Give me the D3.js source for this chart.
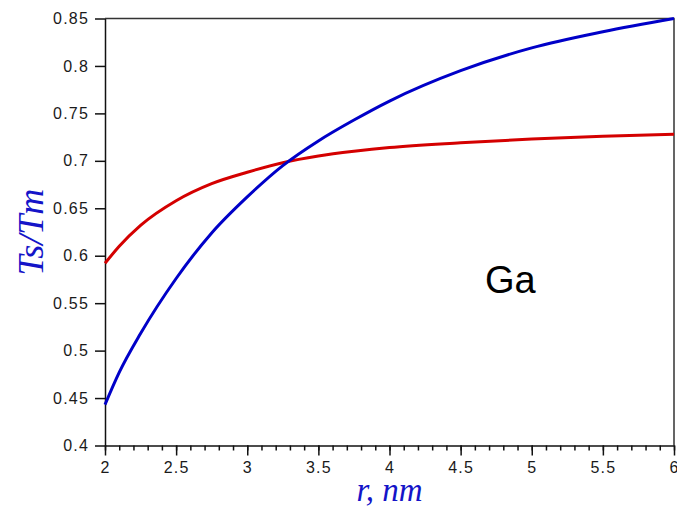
<!DOCTYPE html>
<html>
<head>
<meta charset="utf-8">
<script src="https://cdn.jsdelivr.net/npm/d3@7"></script>
<style>
  html, body { margin: 0; padding: 0; background: #fff; }
  .tick text { font-family: "Liberation Sans", Arial, sans-serif; font-size: 16px; letter-spacing: 1.2px; fill: #1a1a1a; }
  .tick line, .domain { stroke: #111; stroke-width: 1.5px; }
</style>
</head>
<body>
<div id="chart"></div>
<script>
// radius values (nm)
const rBlue = [2, 2.1, 2.25, 2.5, 2.75, 3, 3.25, 3.5, 3.75, 4, 4.5, 5, 5.5, 6];
const tsBlue = [0.443, 0.477, 0.518, 0.576, 0.624, 0.662, 0.695, 0.721, 0.743, 0.763, 0.795, 0.819, 0.836, 0.85];

const rRed = [2, 2.1, 2.25, 2.5, 2.75, 3, 3.25, 3.5, 3.75, 4, 4.5, 5, 5.5, 6];
const tsRed = [0.592, 0.610, 0.632, 0.658, 0.676, 0.688, 0.698, 0.705, 0.710, 0.714, 0.719, 0.723, 0.726, 0.728];

const xTicks = [2, 2.5, 3, 3.5, 4, 4.5, 5, 5.5, 6];
const yTicks = [0.4, 0.45, 0.5, 0.55, 0.6, 0.65, 0.7, 0.75, 0.8, 0.85];

const width = 677, height = 508;
const margin = { top: 18.5, right: 3, bottom: 62.5, left: 105 };

const svg = d3.select('#chart').append('svg')
    .attr('width', width)
    .attr('height', height);

const x = d3.scaleLinear().domain([2, 6]).range([margin.left, width - margin.right]);
const y = d3.scaleLinear().domain([0.4, 0.85]).range([height - margin.bottom, margin.top]);

// frame (top + right)
svg.append('path')
    .attr('d', `M${x(2)},${y(0.85)}H${x(6)}V${y(0.4)}`)
    .attr('fill', 'none')
    .attr('stroke', '#333')
    .attr('stroke-width', 1.5);

// minor x ticks
svg.append('g')
    .attr('transform', `translate(0,${y(0.4)})`)
    .call(d3.axisBottom(x).tickValues(d3.range(20, 61).map(d => d / 10)).tickSize(5).tickSizeOuter(0).tickFormat(''))
    .call(g => g.select('.domain').remove());

// major x ticks
svg.append('g')
    .attr('transform', `translate(0,${y(0.4)})`)
    .call(d3.axisBottom(x).tickValues(xTicks).tickSize(10).tickPadding(6).tickSizeOuter(0).tickFormat(d3.format('')));

// y axis
svg.append('g')
    .attr('transform', `translate(${x(2)},0)`)
    .call(d3.axisLeft(y).tickValues(yTicks).tickSize(10).tickPadding(6).tickSizeOuter(0).tickFormat(d3.format('')));

const line = d3.line().curve(d3.curveMonotoneX);

svg.append('path')
    .attr('d', line(rRed.map((r, i) => [x(r), y(tsRed[i])])))
    .attr('fill', 'none')
    .attr('stroke', '#d40000')
    .attr('stroke-width', 3);

svg.append('path')
    .attr('d', line(rBlue.map((r, i) => [x(r), y(tsBlue[i])])))
    .attr('fill', 'none')
    .attr('stroke', '#0000c8')
    .attr('stroke-width', 3);

// labels
svg.append('text')
    .attr('transform', `translate(43,${(y(0.4) + y(0.85)) / 2}) rotate(-90)`)
    .attr('text-anchor', 'middle')
    .style('font-family', '"Liberation Serif", "Times New Roman", serif')
    .style('font-style', 'italic')
    .style('font-size', '36px')
    .style('fill', '#1414c8')
    .text('Ts/Tm');

svg.append('text')
    .attr('x', (x(2) + x(6)) / 2)
    .attr('y', 501)
    .attr('text-anchor', 'middle')
    .style('font-family', '"Liberation Serif", "Times New Roman", serif')
    .style('font-style', 'italic')
    .style('font-size', '33px')
    .style('fill', '#1414c8')
    .text('r, nm');

svg.append('text')
    .attr('x', 485)
    .attr('y', 293)
    .style('font-family', '"Liberation Sans", Arial, sans-serif')
    .style('font-size', '38px')
    .style('fill', '#000')
    .text('Ga');
</script>
</body>
</html>
